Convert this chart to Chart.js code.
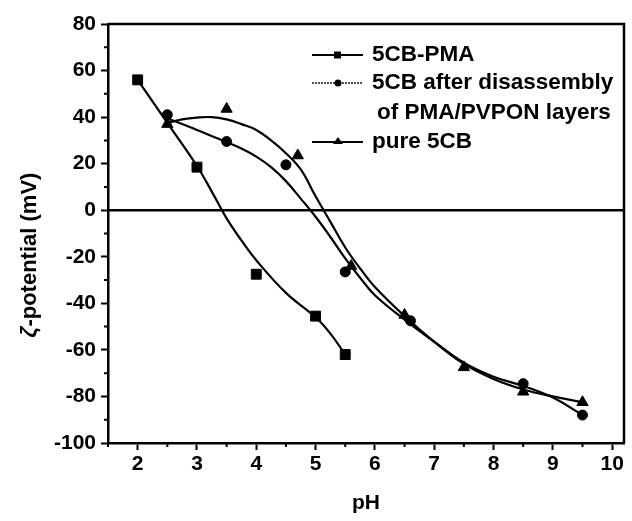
<!DOCTYPE html>
<html>
<head>
<meta charset="utf-8">
<script src="https://cdn.jsdelivr.net/npm/chart.js@4"></script>
<style>
  html, body { margin: 0; padding: 0; background: #fff; }
</style>
</head>
<body>
<canvas id="myChart" width="632" height="521"></canvas>
<script>
const phPMA = [2, 3, 4, 5, 5.5];
const zetaPMA = [56, 18.5, -27.5, -45.5, -62];
const phDis = [2.5, 3.5, 4.5, 5.5, 6.6, 8.5, 9.5];
const zetaDis = [41, 29.5, 19.5, -26.5, -47.5, -74.5, -88];
const phPure = [2.5, 3.5, 4.7, 5.6, 6.5, 7.5, 8.5, 9.5];
const zetaPure = [37, 43.5, 23.5, -24, -45, -67.5, -78, -82.5];

// fitted curves
const fitPhPMA = [2, 2.5, 3, 3.25, 3.5, 3.75, 4, 4.5, 5, 5.25, 5.5];
const fitZetaPMA = [56, 37.5, 19, 8, -3.5, -13, -21.5, -35.5, -46, -53, -62];
const fitPhDis = [2.5, 3, 3.5, 3.75, 4, 4.25, 4.5, 4.75, 5, 5.25, 5.5, 5.75, 6, 6.5, 7, 7.5, 8, 8.5, 9, 9.5];
const fitZetaDis = [39.5, 34.5, 29.2, 26.5, 23, 18.5, 12.5, 5, -2.8, -11.5, -20.7, -29, -36.5, -47, -56.5, -65.5, -71.5, -75.5, -80.5, -88];
const fitPhPure = [2.5, 2.75, 3, 3.25, 3.5, 3.75, 4, 4.25, 4.5, 4.75, 5, 5.25, 5.5, 5.75, 6, 6.5, 7, 7.5, 8, 8.5, 9, 9.5];
const fitZetaPure = [37.5, 39, 39.8, 40, 39, 37, 34.5, 30, 24.5, 17.5, 6, -5, -16, -25, -33, -45.5, -56.5, -66, -72.5, -77, -80, -82.5];

const xTicks = [2, 3, 4, 5, 6, 7, 8, 9, 10];
const xMinor = [1.5, 2.5, 3.5, 4.5, 5.5, 6.5, 7.5, 8.5, 9.5];
const yTicks = [-100, -80, -60, -40, -20, 0, 20, 40, 60, 80];
const yMinor = [-90, -70, -50, -30, -10, 10, 30, 50, 70];
const legendNames = ['5CB-PMA', '5CB after disassembly', 'of PMA/PVPON layers', 'pure 5CB'];

const FONT = '"Liberation Sans", Arial, sans-serif';

function pts(xs, ys) {
  return xs.map((x, i) => ({ x: x, y: ys[i] }));
}

function marker(pointStyle, radius, data) {
  return {
    data: data,
    showLine: false,
    pointStyle: pointStyle,
    pointRadius: radius,
    pointBackgroundColor: '#000',
    pointBorderColor: '#000',
    pointBorderWidth: 1
  };
}

function curve(data) {
  return {
    data: data,
    showLine: true,
    borderColor: '#000',
    borderWidth: 2.2,
    pointRadius: 0,
    tension: 0.4
  };
}

// frame, zero line, minor ticks, axis titles and legend
const extras = {
  id: 'extras',
  beforeDatasetsDraw(chart) {
    const { ctx, chartArea: a, scales } = chart;
    const y0 = scales.y.getPixelForValue(0);
    ctx.save();
    ctx.strokeStyle = '#000';
    ctx.lineWidth = 2.5;
    ctx.beginPath();
    ctx.moveTo(a.left, y0);
    ctx.lineTo(a.right, y0);
    ctx.moveTo(a.left, a.top);
    ctx.lineTo(a.right, a.top);
    ctx.lineTo(a.right, a.bottom);
    ctx.stroke();
    ctx.restore();
  },
  afterDraw(chart) {
    const { ctx, chartArea: a, scales } = chart;
    ctx.save();
    ctx.strokeStyle = '#000';
    ctx.lineWidth = 2;
    ctx.beginPath();
    xMinor.forEach(v => {
      const px = scales.x.getPixelForValue(v);
      ctx.moveTo(px, a.bottom);
      ctx.lineTo(px, a.bottom + 4);
    });
    yMinor.forEach(v => {
      const py = scales.y.getPixelForValue(v);
      ctx.moveTo(a.left, py);
      ctx.lineTo(a.left - 4, py);
    });
    ctx.stroke();

    // x title
    ctx.fillStyle = '#000';
    ctx.font = 'bold 21px ' + FONT;
    ctx.textAlign = 'center';
    ctx.textBaseline = 'middle';
    ctx.fillText('pH', (a.left + a.right) / 2, 503);

    // y title with italic zeta
    ctx.save();
    ctx.translate(30, 255);
    ctx.rotate(-Math.PI / 2);
    ctx.textAlign = 'left';
    const f1 = 'italic bold 22px ' + FONT;
    const f2 = 'bold 22px ' + FONT;
    ctx.font = f1;
    const w1 = ctx.measureText('\u03B6').width;
    ctx.font = f2;
    const w2 = ctx.measureText('-potential (mV)').width;
    let sx = -(w1 + w2) / 2;
    ctx.font = f1;
    ctx.fillText('\u03B6', sx, 0);
    ctx.font = f2;
    ctx.fillText('-potential (mV)', sx + w1, 0);
    ctx.restore();

    // legend
    const lx1 = 312, lx2 = 363, tx = 372;
    const rows = [55, 83, 113, 142];
    ctx.font = 'bold 22.5px ' + FONT;
    ctx.textAlign = 'left';
    ctx.textBaseline = 'middle';
    ctx.lineWidth = 2;
    // row 1: square
    ctx.strokeStyle = '#000';
    ctx.beginPath(); ctx.moveTo(lx1, rows[0]); ctx.lineTo(lx2, rows[0]); ctx.stroke();
    ctx.fillRect(334, rows[0] - 3.5, 7, 7);
    ctx.fillText(legendNames[0], tx, rows[0]);
    // row 2: circle, dotted grey line
    ctx.save();
    ctx.strokeStyle = '#555';
    ctx.setLineDash([2, 1]);
    ctx.beginPath(); ctx.moveTo(lx1, rows[1]); ctx.lineTo(lx2, rows[1]); ctx.stroke();
    ctx.restore();
    ctx.beginPath(); ctx.arc(338, rows[1], 3.5, 0, Math.PI * 2); ctx.fill();
    ctx.fillText(legendNames[1], tx, rows[1]);
    ctx.fillText(legendNames[2], tx + 5, rows[2]);
    // row 4: triangle
    ctx.beginPath(); ctx.moveTo(lx1, rows[3]); ctx.lineTo(lx2, rows[3]); ctx.stroke();
    ctx.beginPath();
    ctx.moveTo(338, rows[3] - 5);
    ctx.lineTo(343, rows[3] + 2);
    ctx.lineTo(333, rows[3] + 2);
    ctx.closePath(); ctx.fill();
    ctx.fillText(legendNames[3], tx, rows[3]);
    ctx.restore();
  }
};

const ctx = document.getElementById('myChart');

new Chart(ctx, {
  type: 'scatter',
  data: {
    datasets: [
      curve(pts(fitPhPMA, fitZetaPMA)),
      curve(pts(fitPhDis, fitZetaDis)),
      curve(pts(fitPhPure, fitZetaPure)),
      marker('rect', 7, pts(phPMA, zetaPMA)),
      marker('circle', 5, pts(phDis, zetaDis)),
      marker('triangle', 6.5, pts(phPure, zetaPure))
    ]
  },
  options: {
    responsive: false,
    animation: false,
    layout: { padding: { left: 0, right: 5, top: 24, bottom: 0 } },
    plugins: {
      legend: { display: false },
      tooltip: { enabled: false }
    },
    scales: {
      x: {
        type: 'linear',
        min: 1.5,
        max: 10.2,
        afterBuildTicks: s => { s.ticks = xTicks.map(v => ({ value: v })); },
        afterFit: s => { s.height = 78; },
        border: { color: '#000', width: 2.5 },
        grid: { drawOnChartArea: false, drawTicks: true, tickLength: 7, tickColor: '#000', tickWidth: 2 },
        ticks: { color: '#000', padding: 2, font: { family: FONT, size: 21, weight: 'bold' } }
      },
      y: {
        type: 'linear',
        min: -100,
        max: 80,
        afterBuildTicks: s => { s.ticks = yTicks.map(v => ({ value: v })); },
        afterFit: s => { s.width = 108; },
        border: { color: '#000', width: 2.5 },
        grid: { drawOnChartArea: false, drawTicks: true, tickLength: 7, tickColor: '#000', tickWidth: 2 },
        ticks: { color: '#000', padding: 5, font: { family: FONT, size: 21, weight: 'bold' } }
      }
    }
  },
  plugins: [extras]
});
</script>
</body>
</html>
